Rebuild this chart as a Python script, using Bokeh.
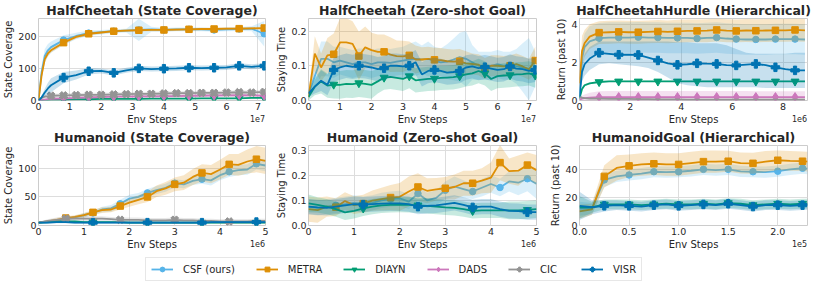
import math
from bokeh.plotting import figure
from bokeh.layouts import column, row
from bokeh.models import (Range1d, FixedTicker, LinearAxis, Legend, LegendItem,
                          PrintfTickFormatter)
from bokeh.embed import file_html
from bokeh.resources import INLINE

# ---------------- data ----------------
methods = ["CSF", "METRA", "DIAYN", "DADS", "CIC", "VISR"]
legend_labels = ["CSF (ours)", "METRA", "DIAYN", "DADS", "CIC", "VISR"]

# Panel 1: HalfCheetah (State Coverage), x in units of 1e7
hc_sc_x = [0, 0.1, 0.2, 0.3, 0.4, 0.8, 1.2, 1.6, 2.0, 2.4, 2.8, 3.2, 3.6, 4.0, 4.4, 4.8, 5.2, 5.6, 6.0, 6.4, 6.8, 7.2]
hc_sc_csf = [0, 90, 140, 158, 168, 190, 203, 212, 215, 218, 220, 222, 224, 222, 224, 224, 224, 222, 224, 225, 226, 210]
hc_sc_csf_sd = [0, 20, 22, 20, 18, 15, 10, 8, 7, 6, 6, 35, 8, 6, 6, 6, 6, 6, 6, 6, 8, 40]
hc_sc_metra = [0, 80, 130, 148, 158, 182, 200, 210, 214, 218, 220, 221, 222, 222, 223, 224, 225, 225, 226, 226, 227, 228]
hc_sc_metra_sd = [0, 10, 10, 8, 7, 6, 5, 5, 4, 4, 4, 4, 4, 4, 4, 4, 4, 4, 4, 4, 4, 4]
hc_sc_diayn = [0, 1, 2, 2, 3, 3, 4, 4, 5, 5, 5, 5, 6, 6, 6, 6, 7, 7, 7, 7, 8, 8]
hc_sc_diayn_sd = [0, 1, 1, 2, 2, 2, 2, 2, 2, 2, 2, 2, 2, 2, 2, 2, 2, 2, 2, 2, 2, 2]
hc_sc_dads = [0, 2, 3, 4, 5, 7, 8, 10, 11, 12, 12, 13, 13, 14, 14, 15, 15, 16, 16, 17, 16, 15]
hc_sc_dads_sd = [0, 2, 3, 4, 5, 5, 5, 5, 5, 5, 5, 5, 5, 5, 5, 5, 5, 5, 5, 5, 5, 5]
hc_sc_cic = [0, 8, 12, 14, 15, 16, 17, 18, 18, 19, 20, 21, 21, 22, 23, 23, 24, 24, 25, 26, 25, 27]
hc_sc_cic_sd = [0, 4, 5, 6, 6, 6, 6, 6, 6, 6, 6, 6, 6, 6, 6, 6, 6, 6, 6, 6, 6, 6]
hc_sc_visr = [0, 10, 25, 38, 48, 72, 80, 92, 93, 87, 95, 101, 99, 100, 101, 103, 102, 103, 104, 109, 106, 109]
hc_sc_visr_sd = [0, 5, 12, 18, 22, 18, 14, 10, 8, 8, 8, 8, 8, 8, 8, 8, 8, 8, 8, 8, 8, 8]

# Panel 2: HalfCheetah (Zero-shot Goal), x in units of 1e7
hc_zs_x = [0, 0.2, 0.4, 0.6, 0.8, 1.0, 1.2, 1.4, 1.6, 1.8, 2.0, 2.2, 2.4, 2.6, 2.8, 3.0, 3.2, 3.4, 3.6,
           3.8, 4.0, 4.2, 4.4, 4.6, 4.8, 5.0, 5.2, 5.4, 5.6, 5.8, 6.0, 6.2, 6.4, 6.6, 6.8, 7.0, 7.2]
hc_zs_csf = [0.02, 0.07, 0.12, 0.12, 0.11, 0.115, 0.11, 0.105, 0.11, 0.11, 0.105, 0.11, 0.11, 0.108, 0.112, 0.115,
             0.118, 0.12, 0.118, 0.12, 0.115, 0.11, 0.112, 0.118, 0.125, 0.12, 0.11, 0.1, 0.1, 0.1, 0.105, 0.1,
             0.1, 0.098, 0.095, 0.09, 0.09]
hc_zs_csf_sd = [0.01, 0.04, 0.05, 0.05, 0.045, 0.04, 0.04, 0.04, 0.04, 0.04, 0.04, 0.04, 0.04, 0.04, 0.04, 0.04,
                0.045, 0.05, 0.04, 0.05, 0.04, 0.04, 0.05, 0.06, 0.07, 0.08, 0.05, 0.04, 0.04, 0.04, 0.04, 0.04,
                0.04, 0.05, 0.07, 0.09, 0.05]
hc_zs_metra = [0.01, 0.135, 0.095, 0.13, 0.133, 0.167, 0.167, 0.163, 0.128, 0.153, 0.145, 0.14, 0.14, 0.132,
               0.128, 0.127, 0.13, 0.118, 0.118, 0.12, 0.117, 0.116, 0.113, 0.112, 0.113, 0.107, 0.105, 0.103,
               0.092, 0.1, 0.1, 0.098, 0.1, 0.105, 0.098, 0.09, 0.115]
hc_zs_metra_sd = [0.01, 0.05, 0.04, 0.05, 0.06, 0.07, 0.07, 0.065, 0.07, 0.06, 0.05, 0.05, 0.05, 0.05, 0.045,
                  0.045, 0.04, 0.04, 0.035, 0.035, 0.035, 0.035, 0.035, 0.035, 0.035, 0.035, 0.03, 0.03, 0.03,
                  0.03, 0.03, 0.03, 0.03, 0.03, 0.03, 0.03, 0.04]
hc_zs_diayn = [0.01, 0.04, 0.055, 0.043, 0.046, 0.045, 0.048, 0.047, 0.05, 0.048, 0.045, 0.055, 0.066, 0.068,
               0.065, 0.062, 0.07, 0.058, 0.06, 0.062, 0.063, 0.065, 0.066, 0.067, 0.07, 0.075, 0.078, 0.085,
               0.078, 0.062, 0.07, 0.072, 0.073, 0.075, 0.076, 0.078, 0.072]
hc_zs_diayn_sd = [0.01, 0.025, 0.035, 0.035, 0.04, 0.04, 0.04, 0.04, 0.04, 0.04, 0.04, 0.035, 0.035, 0.035,
                  0.035, 0.035, 0.035, 0.035, 0.035, 0.035, 0.035, 0.035, 0.035, 0.035, 0.035, 0.035, 0.035,
                  0.035, 0.035, 0.035, 0.035, 0.035, 0.035, 0.035, 0.035, 0.035, 0.035]
hc_zs_visr = [0.02, 0.04, 0.057, 0.045, 0.088, 0.095, 0.1, 0.097, 0.1, 0.098, 0.095, 0.09, 0.093, 0.1, 0.1,
              0.098, 0.1, 0.11, 0.075, 0.085, 0.088, 0.085, 0.08, 0.082, 0.085, 0.095, 0.098, 0.093, 0.096,
              0.092, 0.088, 0.09, 0.098, 0.092, 0.09, 0.085, 0.088]
hc_zs_visr_sd = [0.01, 0.02, 0.03, 0.03, 0.035, 0.035, 0.035, 0.035, 0.035, 0.035, 0.035, 0.035, 0.035, 0.035,
                 0.035, 0.035, 0.035, 0.035, 0.035, 0.035, 0.035, 0.035, 0.035, 0.035, 0.035, 0.035, 0.035,
                 0.035, 0.035, 0.035, 0.035, 0.035, 0.035, 0.035, 0.035, 0.035, 0.035]

# Panel 3: HalfCheetahHurdle (Hierarchical), x in units of 1e6
hh_x = [0, 0.1, 0.2, 0.4, 0.77, 1.16, 1.54, 1.93, 2.31, 2.7, 3.08, 3.47, 3.85, 4.24, 4.62, 5.01, 5.39,
        5.78, 6.16, 6.55, 6.93, 7.32, 7.7, 8.09, 8.47, 8.86]
hh_csf = [0.2, 2.2, 2.8, 3.1, 3.27, 3.3, 3.3, 3.3, 3.32, 3.3, 3.3, 3.28, 3.28, 3.28, 3.25, 3.28, 3.3, 3.25,
          3.22, 3.2, 3.2, 3.2, 3.22, 3.22, 3.22, 3.2]
hh_csf_sd = [0.1, 0.6, 0.7, 0.8, 0.8, 0.8, 0.8, 0.8, 0.8, 0.8, 0.8, 0.8, 0.8, 0.8, 0.8, 0.8, 0.8, 0.8,
             0.8, 0.8, 0.8, 0.8, 0.8, 0.8, 0.8, 0.8]
hh_metra = [0.9, 2.6, 3.0, 3.35, 3.56, 3.58, 3.6, 3.58, 3.58, 3.6, 3.62, 3.6, 3.63, 3.65, 3.65, 3.66, 3.7,
            3.66, 3.65, 3.67, 3.66, 3.67, 3.68, 3.68, 3.7, 3.68]
hh_metra_sd = [0.3, 0.8, 0.7, 0.65, 0.6, 0.6, 0.6, 0.6, 0.6, 0.6, 0.6, 0.6, 0.6, 0.6, 0.6, 0.6, 0.6, 0.6,
               0.6, 0.6, 0.6, 0.6, 0.6, 0.6, 0.6, 0.6]
hh_diayn = [0.1, 0.6, 0.8, 0.9, 0.97, 1.0, 1.0, 1.0, 1.0, 1.0, 1.0, 1.0, 1.0, 1.0, 1.0, 1.0, 1.0, 1.0,
            1.0, 1.0, 1.0, 1.0, 1.0, 1.0, 1.0, 1.0]
hh_diayn_sd = [0.05, 0.08, 0.06, 0.05, 0.04, 0.03, 0.03, 0.03, 0.03, 0.03, 0.03, 0.03, 0.03, 0.03, 0.03,
               0.03, 0.03, 0.03, 0.03, 0.03, 0.03, 0.03, 0.03, 0.03, 0.03, 0.03]
hh_dads = [0.05, 0.1, 0.12, 0.15, 0.18, 0.18, 0.18, 0.18, 0.18, 0.18, 0.18, 0.18, 0.18, 0.18, 0.18, 0.18,
           0.18, 0.18, 0.18, 0.18, 0.18, 0.18, 0.18, 0.18, 0.18, 0.18]
hh_dads_sd = [0.05, 0.15, 0.2, 0.25, 0.3, 0.32, 0.32, 0.32, 0.32, 0.32, 0.32, 0.32, 0.32, 0.32, 0.32, 0.32,
              0.32, 0.32, 0.32, 0.32, 0.3, 0.3, 0.3, 0.3, 0.3, 0.3]
hh_cic = [0.2, 0.15, 0.12, 0.1, 0.1, 0.09, 0.08, 0.08, 0.07, 0.07, 0.06, 0.06, 0.06, 0.05, 0.05, 0.05,
          0.05, 0.05, 0.05, 0.05, 0.05, 0.05, 0.05, 0.05, 0.05, 0.05]
hh_cic_sd = [0.05, 0.05, 0.05, 0.05, 0.05, 0.05, 0.05, 0.05, 0.05, 0.05, 0.05, 0.05, 0.05, 0.05, 0.05,
             0.05, 0.05, 0.05, 0.05, 0.05, 0.05, 0.05, 0.05, 0.05, 0.05, 0.05]
hh_visr = [0.2, 1.5, 1.9, 2.2, 2.5, 2.45, 2.4, 2.4, 2.39, 2.25, 2.1, 1.95, 1.87, 1.9, 1.95, 1.93, 1.92,
           1.85, 1.84, 1.88, 1.92, 1.85, 1.74, 1.65, 1.58, 1.58]
hh_visr_lo = [0.1, 1.0, 1.3, 1.6, 1.9, 1.95, 1.9, 1.85, 1.8, 1.7, 1.5, 1.2, 0.9, 0.8, 0.75, 0.7, 0.7, 0.7,
              0.7, 0.7, 0.7, 0.65, 0.65, 0.65, 0.65, 0.65]
hh_visr_hi = [0.3, 2.0, 2.45, 2.8, 3.1, 3.1, 3.1, 3.1, 3.1, 3.1, 3.1, 3.1, 3.05, 3.05, 3.0, 3.0, 3.0, 2.9,
              2.7, 2.5, 2.45, 2.45, 2.45, 2.45, 2.5, 2.5]

# Panel 4: Humanoid (State Coverage), x in units of 1e6
hu_sc_x = [0, 0.2, 0.4, 0.6, 0.8, 1.0, 1.2, 1.4, 1.6, 1.8, 2.0, 2.2, 2.4, 2.6, 2.8, 3.0, 3.2, 3.4, 3.6, 3.8,
           4.0, 4.2, 4.4, 4.6, 4.8, 5.0]
hu_sc_csf = [5, 6, 8, 11, 14, 18, 22, 28, 30, 38, 47, 50, 57, 62, 66, 74, 72, 78, 81, 79, 88, 94, 97, 98, 108, 105]
hu_sc_csf_sd = [1, 2, 2, 3, 3, 4, 4, 5, 6, 7, 7, 7, 7, 7, 7, 7, 7, 7, 8, 9, 9, 9, 9, 9, 10, 10]
hu_sc_metra = [5, 7, 10, 13, 15, 18, 23, 27, 28, 34, 40, 45, 50, 60, 65, 72, 75, 85, 92, 90, 98, 107, 106, 112, 116, 113]
hu_sc_metra_sd = [1, 2, 3, 3, 3, 4, 4, 5, 5, 6, 7, 8, 9, 10, 11, 12, 13, 14, 15, 16, 17, 18, 19, 21, 23, 23]
hu_sc_diayn = [5, 6, 7, 7, 7, 6, 6, 6, 6, 6, 5, 5, 5, 5, 5, 5, 5, 5, 5, 5, 5, 5, 5, 5, 5, 5]
hu_sc_diayn_sd = [1, 2, 2, 2, 2, 2, 2, 2, 2, 2, 2, 2, 2, 2, 2, 2, 2, 2, 2, 2, 2, 2, 2, 2, 2, 2]
hu_sc_cic = [5, 8, 10, 12, 12, 12, 12, 12, 11, 10, 10, 10, 9, 9, 9, 10, 9, 9, 8, 8, 7, 7, 7, 7, 8, 8]
hu_sc_cic_sd = [1, 3, 4, 4, 4, 4, 4, 4, 4, 4, 4, 4, 4, 4, 4, 4, 4, 4, 4, 4, 4, 4, 4, 4, 4, 4]
hu_sc_visr = [5, 5, 6, 6, 5, 5, 5, 5, 5, 5, 5, 5, 5, 5, 5, 5, 5, 5, 5, 6, 6, 6, 6, 6, 6, 6]
hu_sc_visr_sd = [1, 2, 2, 2, 2, 2, 2, 2, 2, 2, 2, 2, 2, 2, 2, 2, 2, 2, 2, 2, 2, 2, 2, 2, 2, 2]

# Panel 5: Humanoid (Zero-shot Goal), x in units of 1e6
hu_zs_x = [0, 0.2, 0.4, 0.6, 0.8, 1.0, 1.2, 1.4, 1.6, 1.8, 2.0, 2.2, 2.4, 2.6, 2.8, 3.0, 3.2, 3.4, 3.6, 3.8,
           4.0, 4.2, 4.4, 4.6, 4.8, 5.0]
hu_zs_csf = [0.075, 0.07, 0.075, 0.08, 0.085, 0.09, 0.085, 0.09, 0.1, 0.105, 0.108, 0.095, 0.127, 0.1, 0.11,
             0.14, 0.155, 0.145, 0.135, 0.15, 0.165, 0.151, 0.175, 0.17, 0.186, 0.166]
hu_zs_csf_sd = [0.03, 0.03, 0.03, 0.03, 0.03, 0.03, 0.03, 0.03, 0.03, 0.03, 0.03, 0.03, 0.03, 0.03, 0.03,
                0.035, 0.04, 0.035, 0.03, 0.035, 0.035, 0.035, 0.04, 0.05, 0.05, 0.06]
hu_zs_metra = [0.065, 0.061, 0.075, 0.073, 0.097, 0.081, 0.087, 0.099, 0.105, 0.111, 0.114, 0.135, 0.153,
               0.138, 0.144, 0.148, 0.153, 0.168, 0.168, 0.178, 0.19, 0.25, 0.216, 0.218, 0.24, 0.22]
hu_zs_metra_sd = [0.05, 0.05, 0.04, 0.035, 0.035, 0.035, 0.035, 0.04, 0.045, 0.05, 0.055, 0.06, 0.055, 0.05,
                  0.045, 0.045, 0.05, 0.05, 0.05, 0.05, 0.06, 0.07, 0.05, 0.06, 0.05, 0.06]
hu_zs_diayn = [0.088, 0.082, 0.075, 0.065, 0.052, 0.058, 0.068, 0.075, 0.08, 0.082, 0.083, 0.082, 0.08, 0.078,
               0.075, 0.072, 0.07, 0.065, 0.058, 0.06, 0.06, 0.06, 0.06, 0.06, 0.062, 0.065]
hu_zs_diayn_sd = [0.035, 0.03, 0.03, 0.03, 0.03, 0.03, 0.03, 0.03, 0.03, 0.03, 0.03, 0.03, 0.03, 0.03, 0.03,
                  0.03, 0.03, 0.03, 0.03, 0.03, 0.03, 0.03, 0.035, 0.035, 0.035, 0.035]
hu_zs_visr = [0.075, 0.072, 0.07, 0.075, 0.08, 0.085, 0.083, 0.085, 0.087, 0.088, 0.088, 0.085, 0.075, 0.078,
              0.08, 0.085, 0.09, 0.082, 0.072, 0.075, 0.075, 0.065, 0.058, 0.057, 0.053, 0.053]
hu_zs_visr_sd = [0.03, 0.03, 0.03, 0.03, 0.03, 0.03, 0.03, 0.03, 0.03, 0.03, 0.03, 0.03, 0.03, 0.03, 0.03,
                 0.03, 0.03, 0.03, 0.03, 0.03, 0.03, 0.03, 0.03, 0.03, 0.03, 0.03]

# Panel 6: HumanoidGoal (Hierarchical), x in units of 1e5
hg_x = [0, 0.125, 0.25, 0.375, 0.5, 0.625, 0.75, 0.875, 1.0, 1.125, 1.25, 1.375, 1.5, 1.625, 1.75, 1.875,
        2.0, 2.125, 2.25, 2.3]
hg_csf = [12, 12, 32.5, 35, 36, 37, 38.3, 38, 38.3, 39, 40, 39.5, 40, 38.5, 38.3, 38, 38.7, 40, 40.8, 40.5]
hg_csf_sd = [5, 4, 5, 4, 4, 4, 4, 4, 4, 4, 4, 4, 4, 4, 4, 4, 4, 4, 4, 4]
hg_metra = [10, 11.5, 35, 41, 42.5, 43.5, 44, 43.5, 43.5, 44.5, 45.5, 45.5, 45.8, 44.5, 44.3, 45.5, 46.5, 46,
            45.8, 45.5]
hg_metra_sd = [5, 4, 8, 9, 8, 8, 8, 8, 8, 8, 8, 8, 7.5, 7.5, 7.5, 7.5, 7, 7, 7, 7]
hg_diayn = [13, 13, 15, 15, 15, 14.5, 15, 15.5, 15, 15, 15.5, 15, 16, 15.5, 14.5, 15, 15.5, 15, 15.5, 15.5]
hg_diayn_sd = [8, 4, 3.5, 3.5, 3.5, 3.5, 3.5, 3.5, 3.5, 3.5, 3.5, 3.5, 3.5, 3.5, 3.5, 3.5, 3.5, 3.5, 3.5, 3.5]
hg_visr = [14, 13, 14, 14.5, 14, 13.5, 14.5, 15, 14, 14.5, 15, 14.5, 15.5, 14.5, 13.5, 14.5, 14.5, 14, 14.5, 14.5]
hg_visr_sd = [10, 5, 4, 3.5, 3.5, 3.5, 3.5, 3.5, 3.5, 3.5, 3.5, 3.5, 3.5, 3.5, 3.5, 3.5, 3.5, 3.5, 3.5, 3.5]

# ---------------- style ----------------
FONT = "DejaVu Sans"
TXT = "#262626"
COLORS = {"CSF": "#56B4E9", "METRA": "#DE8F05", "DIAYN": "#029E73",
          "DADS": "#CC78BC", "CIC": "#949494", "VISR": "#0173B2"}
MARKERS = {"CSF": ("circle", 6.5, 0.0), "METRA": ("square", 6.5, 0.0),
           "DIAYN": ("inverted_triangle", 8, 0.0), "DADS": ("diamond", 9, 0.0),
           "CIC": ("plus", 8, math.pi / 4), "VISR": ("plus", 8.5, 0.0)}
FW = 228        # frame width, px (271 - 37 - 6)
SCI_HALF = 8    # half width of the small offset text, px


def style_axis(ax):
    ax.axis_line_color = None
    ax.major_tick_line_color = None
    ax.minor_tick_line_color = None
    ax.major_tick_out = 0
    ax.major_tick_in = 0
    ax.minor_tick_out = 0
    ax.minor_tick_in = 0
    ax.major_label_text_font = FONT
    ax.major_label_text_font_size = "9.5px"
    ax.major_label_text_color = TXT
    ax.major_label_standoff = 2
    ax.axis_label_text_font = FONT
    ax.axis_label_text_font_size = "10px"
    ax.axis_label_text_font_style = "normal"
    ax.axis_label_text_color = TXT
    ax.axis_label_standoff = 1


def make_fig(title, xr, yr, xticks, yticks, ylabel, sci, height, top, bottom, xfmt=None, yfmt=None):
    p = figure(width=271, height=height, x_range=Range1d(*xr), y_range=Range1d(*yr),
               output_backend="svg", toolbar_location=None, title=title,
               min_border_left=37, min_border_right=6, min_border_top=top, min_border_bottom=bottom)
    p.title.text_font = FONT
    p.title.text_font_size = "12.5px"
    p.title.text_font_style = "bold"
    p.title.text_color = TXT
    p.title.align = "center"
    p.title.standoff = 1
    p.xaxis.ticker = FixedTicker(ticks=xticks)
    p.yaxis.ticker = FixedTicker(ticks=yticks)
    if xfmt:
        p.xaxis.formatter = PrintfTickFormatter(format=xfmt)
    if yfmt:
        p.yaxis.formatter = PrintfTickFormatter(format=yfmt)
    style_axis(p.xaxis[0])
    style_axis(p.yaxis[0])
    p.xaxis.axis_label = "Env Steps"
    p.yaxis.axis_label = ylabel
    # scientific offset text ("1e7" etc.): the single tick label of an extra axis,
    # placed half a text width left of the frame's right edge
    span = xr[1] - xr[0]
    sx = LinearAxis(ticker=FixedTicker(ticks=[xr[1] - span * SCI_HALF / FW]),
                    formatter=PrintfTickFormatter(format=sci))
    style_axis(sx)
    sx.major_label_text_font_size = "8px"
    sx.major_label_standoff = -13
    p.add_layout(sx, "below")
    p.grid.grid_line_color = "#dddddd"
    p.grid.grid_line_width = 1
    p.outline_line_color = "#cccccc"
    p.outline_line_width = 1
    return p


def draw(p, x, name, mean, sd=None, lo=None, hi=None, start=None, step=None):
    c = COLORS[name]
    if lo is None:
        lo = [m - s for m, s in zip(mean, sd)]
        hi = [m + s for m, s in zip(mean, sd)]
    p.varea(x=x, y1=lo, y2=hi, fill_color=c, fill_alpha=0.22)
    p.line(x, mean, line_color=c, line_width=1.8)
    if step:
        mk, sz, ang = MARKERS[name]
        p.scatter(x[start::step], mean[start::step], marker=mk, size=sz, angle=ang,
                  fill_color=c, line_color=c)


# Panel 1
p1 = make_fig("HalfCheetah (State Coverage)", (0, 7.24), (0, 258), [0, 1, 2, 3, 4, 5, 6, 7],
              [0, 100, 200], "State Coverage", "1e7", 127, 16, 27)
draw(p1, hc_sc_x, "CSF", hc_sc_csf, hc_sc_csf_sd, start=5, step=2)
draw(p1, hc_sc_x, "METRA", hc_sc_metra, hc_sc_metra_sd, start=5, step=2)
draw(p1, hc_sc_x, "DIAYN", hc_sc_diayn, hc_sc_diayn_sd, start=5, step=2)
draw(p1, hc_sc_x, "DADS", hc_sc_dads, hc_sc_dads_sd, start=5, step=2)
draw(p1, hc_sc_x, "CIC", hc_sc_cic, hc_sc_cic_sd, start=4, step=1)
draw(p1, hc_sc_x, "VISR", hc_sc_visr, hc_sc_visr_sd, start=5, step=2)

# Panel 2
p2 = make_fig("HalfCheetah (Zero-shot Goal)", (0, 7.24), (0, 0.236), [0, 1, 2, 3, 4, 5, 6, 7],
              [0, 0.1, 0.2], "Staying Time", "1e7", 127, 16, 27, yfmt="%.1f")
draw(p2, hc_zs_x, "CSF", hc_zs_csf, hc_zs_csf_sd)
draw(p2, hc_zs_x, "METRA", hc_zs_metra, hc_zs_metra_sd, start=4, step=4)
draw(p2, hc_zs_x, "DIAYN", hc_zs_diayn, hc_zs_diayn_sd, start=4, step=4)
draw(p2, hc_zs_x, "VISR", hc_zs_visr, hc_zs_visr_sd, start=4, step=4)

# Panel 3
p3 = make_fig("HalfCheetahHurdle (Hierarchical)", (0, 8.96), (0, 4.3), [0, 2, 4, 6, 8],
              [0, 2, 4], "Return (past 10)", "1e6", 127, 16, 27)
draw(p3, hh_x, "CSF", hh_csf, hh_csf_sd, start=4, step=2)
draw(p3, hh_x, "METRA", hh_metra, hh_metra_sd, start=4, step=2)
draw(p3, hh_x, "DIAYN", hh_diayn, hh_diayn_sd, start=4, step=2)
draw(p3, hh_x, "DADS", hh_dads, hh_dads_sd, start=4, step=2)
draw(p3, hh_x, "CIC", hh_cic, hh_cic_sd)
draw(p3, hh_x, "VISR", hh_visr, lo=hh_visr_lo, hi=hh_visr_hi, start=4, step=2)

# Panel 4
p4 = make_fig("Humanoid (State Coverage)", (0, 5.0), (0, 140), [0, 1, 2, 3, 4, 5],
              [0, 50, 100], "State Coverage", "1e6", 126, 14, 28)
draw(p4, hu_sc_x, "CSF", hu_sc_csf, hu_sc_csf_sd, start=3, step=3)
draw(p4, hu_sc_x, "METRA", hu_sc_metra, hu_sc_metra_sd, start=3, step=3)
draw(p4, hu_sc_x, "DIAYN", hu_sc_diayn, hu_sc_diayn_sd, start=6, step=6)
draw(p4, hu_sc_x, "CIC", hu_sc_cic, hu_sc_cic_sd, start=3, step=6)
draw(p4, hu_sc_x, "VISR", hu_sc_visr, hu_sc_visr_sd, start=6, step=6)

# Panel 5
p5 = make_fig("Humanoid (Zero-shot Goal)", (0, 5.0), (0, 0.318), [0, 1, 2, 3, 4, 5],
              [0, 0.1, 0.2, 0.3], "Staying Time", "1e6", 126, 14, 28, yfmt="%.1f")
draw(p5, hu_zs_x, "CSF", hu_zs_csf, hu_zs_csf_sd, start=3, step=3)
draw(p5, hu_zs_x, "METRA", hu_zs_metra, hu_zs_metra_sd, start=3, step=3)
draw(p5, hu_zs_x, "DIAYN", hu_zs_diayn, hu_zs_diayn_sd, start=6, step=6)
draw(p5, hu_zs_x, "VISR", hu_zs_visr, hu_zs_visr_sd, start=6, step=6)

# Panel 6
p6 = make_fig("HumanoidGoal (Hierarchical)", (0, 2.3), (0, 57), [0, 0.5, 1.0, 1.5, 2.0],
              [0, 20, 40], "Return (past 10)", "1e5", 126, 14, 28, xfmt="%.1f")
draw(p6, hg_x, "CSF", hg_csf, hg_csf_sd, start=2, step=2)
draw(p6, hg_x, "METRA", hg_metra, hg_metra_sd, start=2, step=2)
draw(p6, hg_x, "DIAYN", hg_diayn, hg_diayn_sd, start=2, step=2)
draw(p6, hg_x, "VISR", hg_visr, hg_visr_sd, start=2, step=2)

# Legend figure
lf = figure(width=813, height=30, x_range=Range1d(0, 1), y_range=Range1d(0, 1),
            output_backend="svg", toolbar_location=None, min_border=0,
            x_axis_location=None, y_axis_location=None)
lf.grid.visible = False
lf.outline_line_color = None
items = []
for name, lab in zip(methods, legend_labels):
    c = COLORS[name]
    mk, sz, ang = MARKERS[name]
    l = lf.line([5, 6], [5, 5], line_color=c, line_width=1.8)
    s = lf.scatter([5.5], [5], marker=mk, size=sz, angle=ang, fill_color=c, line_color=c)
    items.append(LegendItem(label=lab, renderers=[l, s]))
leg = Legend(items=items, orientation="horizontal", location=(145, 2), margin=0, padding=5,
             spacing=21, label_standoff=10, glyph_width=22, glyph_height=12,
             label_text_font=FONT, label_text_font_size="10px", label_text_color=TXT,
             border_line_color="#d0d0d0", border_line_width=1, background_fill_alpha=1)
lf.add_layout(leg)

layout = column(row(p1, p2, p3), row(p4, p5, p6), lf)
open("out.html", "w").write(file_html(layout, INLINE))
